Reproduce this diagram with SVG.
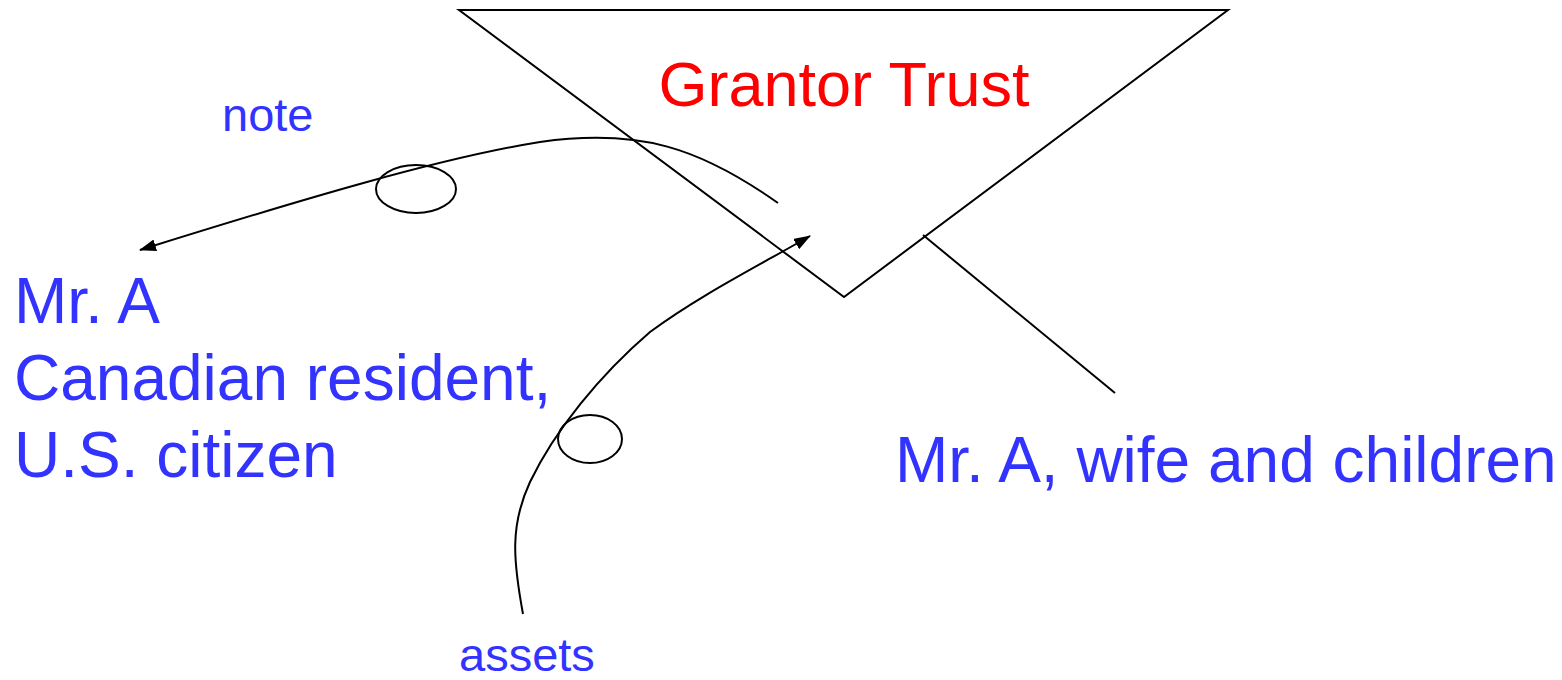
<svg xmlns="http://www.w3.org/2000/svg" width="1562" height="680" viewBox="0 0 1562 680">
<defs>
<style>
.ln{fill:none;stroke:#000;stroke-width:2}
.blue{fill:#3333FF;font-family:"Liberation Sans",Arial,sans-serif}
.big{font-size:64px}
.small{font-size:47px}
</style>
<marker id="ah" viewBox="0 0 17 12" refX="16" refY="6" markerWidth="17" markerHeight="12" markerUnits="userSpaceOnUse" orient="auto">
<path d="M0,0 L17,6 L0,12 z" fill="#000"/>
</marker>
</defs>
<rect width="1562" height="680" fill="#fff"/>
<g id="trust">
<polygon class="ln" points="459,10 1228,10 844,297"/>
<text x="844" y="106" text-anchor="middle" style="fill:#FF0000;font-family:'Liberation Sans',Arial,sans-serif;font-size:63px">Grantor Trust</text>
</g>
<g id="mrA">
<text class="blue big" x="14" y="323">Mr. A</text>
<text class="blue big" x="14" y="400">Canadian resident,</text>
<text class="blue big" x="14" y="477">U.S. citizen</text>
</g>
<g id="family">
<text class="blue big" x="895" y="482">Mr. A, wife and children</text>
</g>
<g id="labels">
<text class="blue small" x="222" y="131">note</text>
<text class="blue small" x="459" y="671">assets</text>
</g>
<g id="connectors">
<path class="ln" d="M778,203 C700,148 640,128 540,142 C440,158 300,200 140,250" marker-end="url(#ah)"/>
<ellipse class="ln" cx="416" cy="189" rx="40" ry="24"/>
<path class="ln" d="M523,614 C513,560 510,525 530,482 C555,430 600,375 650,332 C700,295 760,265 810,236" marker-end="url(#ah)"/>
<ellipse class="ln" cx="590" cy="439" rx="32" ry="24"/>
<line class="ln" x1="923" y1="235" x2="1115" y2="393"/>
</g>
</svg>
